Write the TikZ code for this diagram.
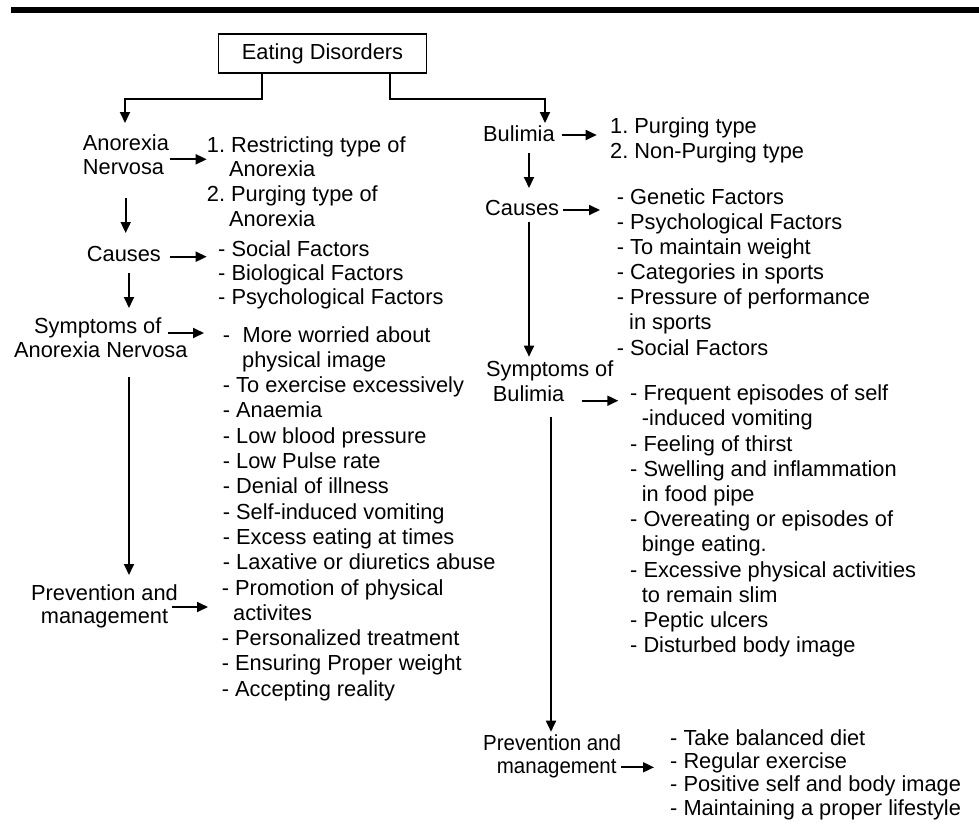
\documentclass[tikz,border=0pt]{standalone}
\usepackage{fontspec}
\setmainfont{Liberation Sans}
\newfontfamily\narrowfont[FakeStretch=0.94]{Liberation Sans}
\usetikzlibrary{arrows.meta}
\frenchspacing
\begin{document}
\begin{tikzpicture}[x=1pt,y=-1pt,
  txt/.style={font=\fontsize{21.8}{25.3}\selectfont, inner sep=0pt, anchor=base west, text=black},
  stxt/.style={txt, font=\narrowfont\fontsize{21.8}{25.3}\selectfont},
  ctxt/.style={txt, anchor=base},
  arr/.style={line width=1.8pt, -{Triangle[length=11pt,width=10pt]}},
  ln/.style={line width=1.8pt}]
\useasboundingbox (0,0) rectangle (979,825);
% top rule
\fill[black] (11,6.7) rectangle (979,12.7);
% title box
\node[draw, line width=1.8pt, minimum width=208pt, minimum height=39pt, inner sep=0pt,
      font=\fontsize{21.8}{25.3}\selectfont] (ed) at (322.5,53.5) {Eating Disorders};

% ---------------- left branch: Anorexia ----------------
\node[txt] (an1) at (82.7,150) {Anorexia};
\node[txt] (an2) at (82.7,174) {Nervosa};
\node[txt] (at1) at (206.7,152.7) {1. Restricting type of};
\node[txt] (at2) at (229,176.7) {Anorexia};
\node[txt] (at3) at (206.7,201.7) {2. Purging type of};
\node[txt] (at4) at (229,226.7) {Anorexia};
\node[txt] (ac) at (86.7,261.7) {Causes};
\node[txt] (acl1) at (218,256) {- Social Factors};
\node[txt] (acl2) at (218,280) {- Biological Factors};
\node[txt] (acl3) at (218,304) {- Psychological Factors};
\node[txt] (as1) at (34,333) {Symptoms of};
\node[txt] (as2) at (14,357) {Anorexia Nervosa};
\foreach \dx/\t [count=\i] in {
  0/-\hspace{12.5pt}More worried about,
  19.3/physical image,
  0/- To exercise excessively,
  0/- Anaemia,
  0/- Low blood pressure,
  0/- Low Pulse rate,
  0/- Denial of illness,
  0/- Self-induced vomiting,
  0/- Excess eating at times,
  0/- Laxative or diuretics abuse,
  -1/- Promotion of physical,
  10.3/activites,
  -1/- Personalized treatment,
  -1/- Ensuring Proper weight,
  -1/- Accepting reality}
  \node[txt] (asl\i) at ({222.7+\dx},{342+25.3*(\i-1)}) {\t};
\node[ctxt] (ap1) at (104.5,600) {Prevention and};
\node[ctxt] (ap2) at (104.5,623) {management};

% ---------------- right branch: Bulimia ----------------
\node[txt] (bu) at (483,141.7) {Bulimia};
\node[txt] (bt1) at (610,133.3) {1. Purging type};
\node[txt] (bt2) at (610,158.3) {2. Non-Purging type};
\node[txt] (bc) at (485,215) {Causes};
\foreach \dx/\t [count=\i] in {
  0/- Genetic Factors,
  0/- Psychological Factors,
  0/- To maintain weight,
  0/- Categories in sports,
  0/- Pressure of performance,
  12.3/in sports,
  0/- Social Factors}
  \node[txt] (bcl\i) at ({616.7+\dx},{204+25.17*(\i-1)}) {\t};
\node[txt] (bs1) at (486,376) {Symptoms of};
\node[txt] (bs2) at (492.7,401.7) {Bulimia};
\foreach \dx/\t [count=\i] in {
  0/- Frequent episodes of self,
  11.7/-induced vomiting,
  0/- Feeling of thirst,
  0/- Swelling and inflammation,
  11.7/in food pipe,
  0/- Overeating or episodes of,
  11.7/binge eating.,
  0/- Excessive physical activities,
  11.7/to remain slim,
  0/- Peptic ulcers,
  0/- Disturbed body image}
  \node[txt] (bsl\i) at ({630+\dx},{400.7+25.2*(\i-1)}) {\t};
\node[stxt] (bp1) at (483,750) {Prevention and};
\node[stxt] (bp2) at (496.7,773.3) {management};
\foreach \t [count=\i] in {
  - Take balanced diet,
  - Regular exercise,
  - Positive self and body image,
  - Maintaining a proper lifestyle}
  \node[txt] (bpl\i) at (670,{745+23.33*(\i-1)}) {\t};

% ---------------- connector end points ----------------
\coordinate (anTop) at (125,123);
\coordinate (buTop) at (545,123);
\coordinate (a1s) at (170,159.3);   \coordinate (a1e) at (206.7,159.3);
\coordinate (a2s) at (125.7,198);   \coordinate (a2e) at (125.7,233);
\coordinate (a3s) at (170,256.7);   \coordinate (a3e) at (206.7,256.7);
\coordinate (a4s) at (129,273);     \coordinate (a4e) at (129,308);
\coordinate (a5s) at (168,333);     \coordinate (a5e) at (204,333);
\coordinate (a6s) at (129,377);     \coordinate (a6e) at (129,575);
\coordinate (a7s) at (172,607);     \coordinate (a7e) at (208,607);
\coordinate (b1s) at (561.7,135);   \coordinate (b1e) at (596.7,135);
\coordinate (b2s) at (529,153);     \coordinate (b2e) at (529,188);
\coordinate (b3s) at (563,210);     \coordinate (b3e) at (600,210);
\coordinate (b4s) at (529,221.7);   \coordinate (b4e) at (529,356.7);
\coordinate (b5s) at (581.7,400.7); \coordinate (b5e) at (618.3,400.7);
\coordinate (b6s) at (551,416.7);   \coordinate (b6e) at (551,731.7);
\coordinate (b7s) at (621,767.3);   \coordinate (b7e) at (654,767.3);

% ---------------- connectors ----------------
\draw[arr] ([xshift=-60.8pt]ed.south) -- ++(0,25) -| (anTop);
\draw[arr] ([xshift=67.5pt]ed.south) -- ++(0,25) -| (buTop);
\foreach \p in {a1,a2,a3,a4,a5,a6,a7,b1,b2,b3,b4,b5,b6,b7}
  \draw[arr] (\p s) -- (\p e);
\end{tikzpicture}
\end{document}
